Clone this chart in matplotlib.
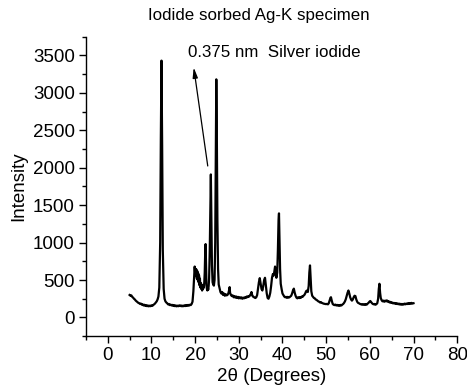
import matplotlib
matplotlib.use("Agg")
import matplotlib.pyplot as plt
from matplotlib.ticker import MultipleLocator

plt.rcParams['font.family'] = ['Liberation Sans', 'DejaVu Sans']

two_theta = [
    5.0, 5.2, 5.4, 5.6, 5.8, 6.0, 6.2, 6.4, 6.6, 6.8, 7.0, 7.2, 7.4, 7.6, 7.8, 8.0, 8.2, 8.4, 8.6, 8.8,
    9.0, 9.2, 9.4, 9.6, 9.8, 10.0, 10.2, 10.4, 10.6, 10.8, 11.0, 11.2, 11.4, 11.6, 11.8, 12.0, 12.15, 12.3, 12.45, 12.6,
    12.8, 13.0, 13.2, 13.4, 13.6, 13.8, 14.0, 14.2, 14.4, 14.6, 14.8, 15.0, 15.2, 15.4, 15.6, 15.8, 16.0, 16.2, 16.4, 16.6,
    16.8, 17.0, 17.2, 17.4, 17.6, 17.8, 18.0, 18.2, 18.4, 18.6, 18.8, 19.0, 19.2, 19.4, 19.6, 19.8, 19.9, 20.0, 20.1, 20.2,
    20.3, 20.4, 20.5, 20.6, 20.7, 20.8, 20.9, 21.0, 21.1, 21.2, 21.3, 21.4, 21.5, 21.6, 21.7, 21.8, 21.9, 22.0, 22.1, 22.2,
    22.3, 22.4, 22.5, 22.6, 22.7, 22.8, 22.9, 23.0, 23.1, 23.2, 23.35, 23.5, 23.6, 23.7, 23.85, 24.0, 24.15, 24.3, 24.45, 24.6,
    24.75, 24.85, 24.95, 25.1, 25.25, 25.4, 25.6, 25.8, 26.0, 26.2, 26.4, 26.6, 26.8, 27.0, 27.2, 27.4, 27.6, 27.8, 27.9, 28.0,
    28.2, 28.4, 28.6, 28.8, 29.0, 29.2, 29.4, 29.6, 29.8, 30.0, 30.2, 30.4, 30.6, 30.8, 31.0, 31.2, 31.4, 31.6, 31.8, 32.0,
    32.2, 32.4, 32.6, 32.8, 32.9, 33.0, 33.2, 33.4, 33.6, 33.8, 34.0, 34.2, 34.4, 34.6, 34.8, 35.0, 35.2, 35.4, 35.6, 35.8,
    36.0, 36.2, 36.4, 36.6, 36.8, 37.0, 37.2, 37.4, 37.6, 37.8, 38.0, 38.2, 38.3, 38.45, 38.6, 38.8, 38.95, 39.1, 39.2, 39.3,
    39.45, 39.6, 39.8, 40.0, 40.2, 40.4, 40.6, 40.8, 41.0, 41.2, 41.4, 41.6, 41.8, 42.0, 42.2, 42.4, 42.6, 42.8, 43.0, 43.2,
    43.4, 43.6, 43.8, 44.0, 44.2, 44.4, 44.6, 44.8, 45.0, 45.2, 45.4, 45.6, 45.8, 46.0, 46.15, 46.3, 46.45, 46.6, 46.8, 47.0,
    47.2, 47.4, 47.6, 47.8, 48.0, 48.2, 48.4, 48.6, 48.8, 49.0, 49.2, 49.4, 49.6, 49.8, 50.0, 50.2, 50.4, 50.6, 50.8, 51.0,
    51.1, 51.3, 51.5, 51.7, 51.9, 52.1, 52.3, 52.5, 52.7, 52.9, 53.1, 53.3, 53.5, 53.7, 53.9, 54.1, 54.3, 54.5, 54.7, 54.9,
    55.1, 55.3, 55.5, 55.7, 55.9, 56.1, 56.3, 56.5, 56.7, 56.9, 57.1, 57.3, 57.5, 57.7, 57.9, 58.1, 58.3, 58.5, 58.7, 58.9,
    59.1, 59.3, 59.5, 59.7, 59.9, 60.1, 60.3, 60.5, 60.7, 60.9, 61.1, 61.3, 61.5, 61.7, 61.9, 62.05, 62.2, 62.35, 62.5, 62.7,
    62.9, 63.1, 63.3, 63.5, 63.7, 63.9, 64.1, 64.3, 64.5, 64.7, 64.9, 65.1, 65.3, 65.5, 65.7, 65.9, 66.1, 66.3, 66.5, 66.7,
    66.9, 67.1, 67.3, 67.5, 67.7, 67.9, 68.1, 68.3, 68.5, 68.7, 68.9, 69.1, 69.3, 69.5, 69.7, 70.0,
]

intensity = [
    300, 290, 295, 275, 265, 250, 240, 225, 215, 205, 195, 190, 180, 185, 170, 175, 160, 170, 155, 165,
    150, 160, 148, 158, 150, 162, 155, 165, 175, 185, 200, 215, 240, 280, 400, 1000, 2400, 3430, 2300, 900,
    380, 250, 215, 200, 190, 175, 180, 165, 172, 160, 168, 155, 165, 150, 160, 148, 158, 150, 162, 152,
    160, 148, 158, 150, 163, 152, 165, 155, 168, 158, 170, 165, 180, 210, 350, 560, 680, 600, 650, 560,
    640, 520, 620, 500, 590, 470, 560, 430, 520, 400, 460, 380, 440, 360, 410, 380, 420, 400, 470, 600,
    850, 980, 700, 430, 380, 360, 400, 370, 420, 520, 900, 1500, 1910, 1400, 700, 470, 440, 425, 500, 1000,
    2400, 3180, 2600, 1300, 650, 440, 390, 340, 320, 340, 300, 320, 290, 310, 295, 300, 320, 370, 405, 330,
    300, 285, 295, 270, 285, 265, 280, 260, 275, 255, 270, 255, 268, 250, 265, 255, 270, 260, 280, 270,
    285, 280, 300, 320, 340, 310, 280, 275, 265, 260, 270, 300, 380, 470, 525, 450, 380, 360, 420, 500,
    530, 420, 320, 260, 250, 280, 330, 420, 530, 580, 560, 640, 680, 600, 530, 600, 900, 1300, 1390, 1100,
    650, 450, 380, 320, 300, 280, 270, 275, 262, 275, 265, 270, 280, 290, 320, 360, 385, 330, 290, 265,
    255, 270, 258, 272, 262, 280, 275, 290, 300, 320, 350, 360, 340, 420, 600, 695, 520, 350, 290, 275,
    260, 255, 240, 235, 225, 215, 210, 200, 205, 195, 190, 185, 182, 180, 178, 182, 175, 190, 230, 265,
    270, 220, 180, 170, 165, 172, 160, 168, 158, 165, 155, 168, 160, 172, 180, 195, 215, 245, 290, 330,
    360, 320, 270, 240, 225, 240, 270, 290, 285, 240, 210, 195, 190, 182, 178, 172, 178, 170, 176, 168,
    178, 172, 185, 195, 210, 220, 205, 190, 180, 175, 180, 170, 178, 190, 250, 380, 450, 330, 260, 230,
    215, 225, 210, 225, 215, 228, 210, 218, 200, 208, 195, 200, 188, 195, 185, 192, 180, 188, 176, 185,
    172, 182, 170, 180, 172, 185, 175, 185, 178, 190, 180, 192, 182, 195, 185, 190,
]

title = "Iodide sorbed Ag-K specimen"
annotation_text = "0.375 nm  Silver iodide"
x_label = "2\u03b8 (Degrees)"
y_label = "Intensity"
x_ticks = [0, 10, 20, 30, 40, 50, 60, 70, 80]
y_ticks = [0, 500, 1000, 1500, 2000, 2500, 3000, 3500]

fig = plt.figure(figsize=(4.67, 3.90), dpi=100)
ax = fig.add_axes([0.184, 0.138, 0.795, 0.768])

ax.plot(two_theta, intensity, color='black', lw=1.6)

ax.set_xlim(-5, 80)
ax.set_ylim(-250, 3750)
ax.set_xticks(x_ticks)
ax.set_yticks(y_ticks)
ax.xaxis.set_minor_locator(MultipleLocator(5))
ax.yaxis.set_minor_locator(MultipleLocator(250))
for s in ['top', 'right']:
    ax.spines[s].set_visible(False)
for s in ['left', 'bottom']:
    ax.spines[s].set_linewidth(1.0)
ax.tick_params(which='major', direction='out', length=5, width=1.0, labelsize=13.5, pad=3)
ax.tick_params(which='minor', direction='out', length=3, width=1.0)

ax.set_xlabel(x_label, fontsize=13.5, labelpad=3)
ax.set_ylabel(y_label, fontsize=13.5, labelpad=4)

fig.text(0.554, 0.959, title, ha='center', va='center', fontsize=12.2)

ax.annotate('', xy=(19.68, 3339), xytext=(22.89, 2023),
            arrowprops=dict(arrowstyle='-|>,head_length=0.6,head_width=0.15', color='black', lw=0.9,
                            shrinkA=0, shrinkB=0))
ax.text(18.37, 3540, annotation_text, ha='left', va='center', fontsize=12.2)

fig.savefig('out.png', dpi=100)
